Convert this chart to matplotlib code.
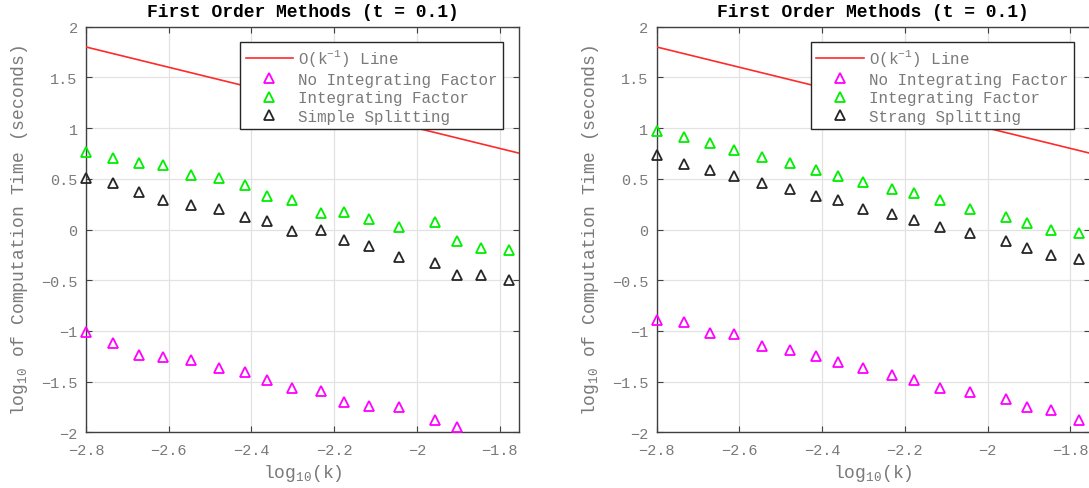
import matplotlib
matplotlib.use("Agg")
import matplotlib.pyplot as plt

plt.rcParams["font.family"] = ["Liberation Mono", "DejaVu Sans Mono"]
plt.rcParams["mathtext.fontset"] = "custom"
plt.rcParams["mathtext.rm"] = "Liberation Mono"
plt.rcParams["mathtext.it"] = "Liberation Mono"
plt.rcParams["mathtext.bf"] = "Liberation Mono:bold"

# step sizes on a log10 scale
log_k = [-2.800, -2.734, -2.672, -2.613, -2.546, -2.478, -2.416, -2.362, -2.301,
         -2.231, -2.177, -2.116, -2.043, -1.956, -1.904, -1.846, -1.778]

# left panel: simple splitting
left_no_if = [-1.008, -1.123, -1.241, -1.257, -1.290, -1.369, -1.402, -1.484,
              -1.559, -1.592, -1.697, -1.736, -1.749, -1.877, -1.952]
left_if = [0.767, 0.705, 0.659, 0.636, 0.541, 0.508, 0.436, 0.328, 0.292,
           0.161, 0.174, 0.108, 0.026, 0.075, -0.110, -0.184, -0.206]
left_split = [0.505, 0.456, 0.370, 0.289, 0.239, 0.203, 0.121, 0.085, -0.013,
              0.000, -0.105, -0.163, -0.275, -0.327, -0.444, -0.451, -0.500]

# right panel: Strang splitting
right_no_if = [-0.890, -0.910, -1.021, -1.031, -1.149, -1.185, -1.248, -1.303,
               -1.366, -1.434, -1.484, -1.559, -1.605, -1.674, -1.749, -1.782, -1.877]
right_if = [0.974, 0.915, 0.849, 0.784, 0.711, 0.652, 0.590, 0.531, 0.472,
            0.397, 0.364, 0.292, 0.207, 0.125, 0.062, -0.005, -0.033]
right_split = [0.734, 0.646, 0.590, 0.528, 0.456, 0.397, 0.328, 0.292, 0.207,
               0.148, 0.089, 0.023, -0.036, -0.115, -0.187, -0.249, -0.292]

# O(k^-1) reference line
ref_x = [-2.800, -1.753]
ref_y = [1.800, 0.753]

x_ticks = [-2.8, -2.6, -2.4, -2.2, -2.0, -1.8]
x_tick_labels = ["\u22122.8", "\u22122.6", "\u22122.4", "\u22122.2", "\u22122", "\u22121.8"]
y_ticks = [-2, -1.5, -1, -0.5, 0, 0.5, 1, 1.5, 2]
y_tick_labels = ["\u22122", "\u22121.5", "\u22121", "\u22120.5", "0", "0.5", "1", "1.5", "2"]

title = "First Order Methods (t = 0.1)"
panels = [
    (left_no_if, left_if, left_split, "Simple Splitting"),
    (right_no_if, right_if, right_split, "Strang Splitting"),
]

TEXT_GRAY = "#7a7a7a"
AXIS_GRAY = "#404040"

W, H = 1089, 489
fig = plt.figure(figsize=(W / 100, H / 100), dpi=100)

ax_lefts = [86, 656.7]
ax_w, ax_top, ax_bot = 433, 27.7, 433.3

for left_px, (no_if, with_if, split, split_label) in zip(ax_lefts, panels):
    ax = fig.add_axes([left_px / W, (H - ax_bot) / H, ax_w / W, (ax_bot - ax_top) / H])
    ax.plot(ref_x, ref_y, color="#ff2a2a", lw=1.2, label=r"O(k$^{-1}$) Line", zorder=3)
    kw = dict(ls="none", marker="^", ms=7.5, mfc="none", mew=1.3, clip_on=False, zorder=4)
    ax.plot(log_k[:len(no_if)], no_if, color="#ff00ff", label="No Integrating Factor", **kw)
    ax.plot(log_k[:len(with_if)], with_if, color="#00ee00", label="Integrating Factor", **kw)
    ax.plot(log_k[:len(split)], split, color="#262626", label=split_label, **kw)

    ax.set_xlim(-2.8, -1.753)
    ax.set_ylim(-2, 2)
    ax.set_xticks(x_ticks)
    ax.set_xticklabels(x_tick_labels)
    ax.set_yticks(y_ticks)
    ax.set_yticklabels(y_tick_labels)
    ax.grid(True, color="#e2e2e2", lw=0.9)
    ax.set_axisbelow(True)
    ax.tick_params(direction="in", length=4, width=0.8, color=AXIS_GRAY,
                   labelcolor=TEXT_GRAY, labelsize=11, top=True, right=True, pad=6)
    ax.tick_params(axis="x", pad=8)
    for sp in ax.spines.values():
        sp.set_color(AXIS_GRAY)
        sp.set_linewidth(1.0)

    ax.set_title(title, fontsize=13, fontweight="bold", color="black", pad=7.5)
    ax.set_xlabel(r"log$_{10}$(k)", fontsize=13, color=TEXT_GRAY, labelpad=3)
    ax.set_ylabel(r"log$_{10}$ of Computation Time (seconds)", fontsize=13,
                  color=TEXT_GRAY, labelpad=8)

    leg = ax.legend(loc="upper right", bbox_to_anchor=(0.963, 0.963), borderaxespad=0,
                    fontsize=11.4, numpoints=1, handlelength=3.0, handletextpad=0.3,
                    borderpad=0.35, labelspacing=0.22, fancybox=False, framealpha=1,
                    edgecolor="#262626")
    leg.get_frame().set_linewidth(1.0)
    for t in leg.get_texts():
        t.set_color(TEXT_GRAY)

fig.savefig("out.png", dpi=100)
